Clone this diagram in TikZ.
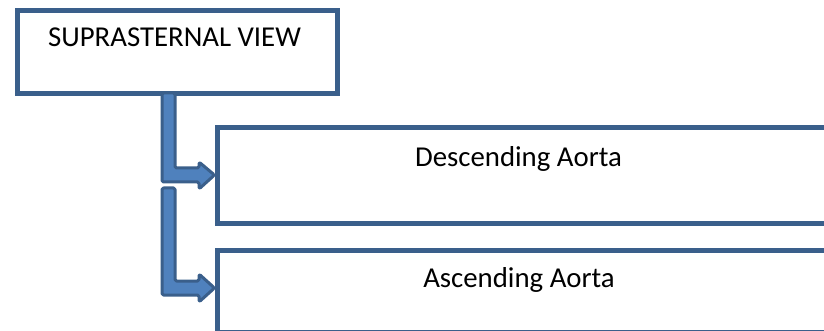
\documentclass[tikz,border=0pt]{standalone}
\usepackage{fontspec}
\setmainfont{Carlito}
\definecolor{boxline}{HTML}{3A5F8B}
\definecolor{arrowfill}{HTML}{4F81BD}
\tikzset{
  panel/.style={draw=boxline, line width=5, fill=white, inner sep=0},
  caption/.style={anchor=base, font=\fontsize{28.8}{34}\selectfont, text=black, inner sep=0},
  bentarrow/.style={draw=boxline, fill=arrowfill, line width=3, line join=round, rounded corners=1.5},
}
\begin{document}
\begin{tikzpicture}[x=1pt, y=-1pt]
  \useasboundingbox (0,0) rectangle (824,331);
  \clip (0,0) rectangle (824,331);

  % main view box
  \node[panel, minimum width=320, minimum height=83, anchor=north west] (view) at (14.5,8.5) {};
  \node[caption] (viewtxt) at (174.5,46.5) {SUPRASTERNAL VIEW};

  % two branch boxes running past the right edge
  \node[panel, minimum width=640, minimum height=95, anchor=north west] (desc) at (214.5,125.5) {};
  \node[caption] (desctxt) at (518.5,167) {Descending Aorta};
  \node[panel, minimum width=640, minimum height=82, anchor=north west] (asc) at (214.5,247.5) {};
  \node[caption] (asctxt) at (519,287) {Ascending Aorta};

  % bent arrows from the view box down to each branch
  \draw[bentarrow] (162,93) -- (175,93) -- (175,168) -- (199,168) -- (199,162)
    -- (desc.west |- 0,175) -- (199,189) -- (199,182) -- (162,182) -- cycle;
  \draw[bentarrow] (162,188) -- (175,188) -- (175,281) -- (199,281) -- (199,274)
    -- (asc.west |- 0,288) -- (199,302) -- (199,295) -- (162,295) -- cycle;
\end{tikzpicture}
\end{document}
